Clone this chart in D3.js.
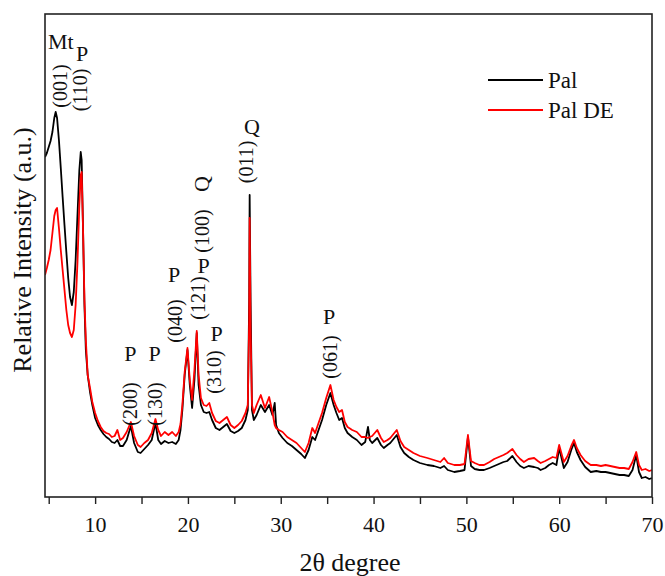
<!DOCTYPE html>
<html>
<head>
<meta charset="utf-8">
<script src="https://cdn.jsdelivr.net/npm/d3@7"></script>
<style>
  body { margin: 0; background: #fff; }
  text { font-family: "Liberation Serif", "Times New Roman", serif; fill: #111; }
</style>
</head>
<body>
<div id="chart"></div>
<script>
// XRD patterns: [2theta, relative intensity]
var pal = [
  [4.6,340],[4.8,344],[5.0,350],[5.2,356],[5.4,365],[5.6,379],[5.75,385],[5.9,379],[6.1,357],[6.3,329],
  [6.5,300],[6.7,272],[6.9,245],[7.1,219],[7.3,200],[7.5,192],[7.7,205],[7.9,237],[8.1,282],[8.3,327],
  [8.45,345],[8.55,337],[8.7,267],[8.85,192],[9.0,147],[9.2,122],[9.45,105],[9.7,92],[10.0,79],[10.3,72],
  [10.6,67],[10.9,63],[11.2,60],[11.5,58],[11.8,55],[12.1,54],[12.4,57],[12.7,51],[13.0,51],[13.4,57],
  [13.85,71],[14.2,54],[14.6,45],[14.9,44],[15.3,48],[15.7,52],[16.1,57],[16.5,74],[16.8,57],[17.1,53],
  [17.5,56],[17.9,54],[18.3,55],[18.7,53],[19.0,57],[19.2,67],[19.4,87],[19.65,122],[19.95,147],[20.2,112],
  [20.45,89],[20.7,117],[20.95,164],[21.15,112],[21.4,92],[21.7,85],[22.0,84],[22.3,85],[22.6,77],[23.0,69],
  [23.4,67],[23.8,70],[24.2,73],[24.6,66],[25.0,64],[25.4,66],[25.8,69],[26.2,77],[26.45,87],[26.6,197],
  [26.65,302],[26.75,197],[26.9,87],[27.1,77],[27.4,82],[27.85,92],[28.3,85],[28.75,92],[29.1,82],[29.35,94],
  [29.5,72],[29.8,64],[30.2,59],[30.7,54],[31.2,51],[31.7,47],[32.2,43],[32.6,39],[33.0,47],[33.4,60],
  [33.7,57],[34.0,65],[34.45,77],[34.9,92],[35.35,104],[35.7,92],[36.0,84],[36.3,77],[36.6,79],[36.9,69],
  [37.2,64],[37.7,60],[38.2,57],[38.7,52],[39.1,55],[39.4,70],[39.6,57],[39.85,54],[40.4,59],[40.8,52],
  [41.1,49],[41.5,52],[41.8,54],[42.5,62],[42.9,50],[43.3,44],[43.8,40],[44.3,37],[45.0,34],[45.8,32],
  [46.5,31],[47.2,29],[47.6,31],[48.0,27],[48.7,25],[49.3,26],[49.8,27],[50.17,60],[50.5,31],[50.9,28],
  [51.4,27],[51.9,27],[52.5,29],[53.0,31],[53.5,33],[54.0,35],[54.4,36],[54.96,41],[55.4,35],[55.8,31],
  [56.2,29],[56.7,31],[57.3,30],[57.7,29],[58.0,27],[58.5,29],[58.9,32],[59.3,34],[59.7,32],[60.0,49],
  [60.5,29],[60.9,35],[61.3,47],[61.6,54],[61.9,45],[62.3,37],[62.8,30],[63.4,25],[64.0,26],[64.5,25],
  [65.0,25],[65.5,24],[66.0,23],[66.5,22],[67.0,22],[67.5,21],[67.9,27],[68.3,42],[68.6,25],[68.9,19],
  [69.3,20],[69.7,18],[70.0,19]
];
var palDE = [
  [4.6,222],[4.8,229],[5.0,237],[5.2,247],[5.4,264],[5.6,281],[5.75,287],[5.9,289],[6.1,269],[6.3,247],
  [6.5,227],[6.7,207],[6.9,187],[7.1,172],[7.3,164],[7.5,160],[7.7,167],[7.9,192],[8.1,235],[8.3,292],
  [8.45,322],[8.55,325],[8.7,267],[8.85,197],[9.0,157],[9.2,122],[9.45,109],[9.7,95],[10.0,84],[10.3,76],
  [10.6,70],[10.9,66],[11.2,64],[11.5,63],[11.8,60],[12.1,61],[12.4,67],[12.7,57],[13.0,59],[13.4,65],
  [13.85,75],[14.2,61],[14.6,52],[14.9,50],[15.3,54],[15.7,57],[16.1,64],[16.5,78],[16.8,67],[17.1,61],
  [17.5,65],[17.9,62],[18.3,65],[18.7,61],[19.0,65],[19.2,73],[19.4,92],[19.65,125],[19.95,149],[20.2,117],
  [20.45,97],[20.7,127],[20.95,166],[21.15,122],[21.4,99],[21.7,92],[22.0,91],[22.3,94],[22.6,84],[23.0,76],
  [23.4,74],[23.8,77],[24.2,80],[24.6,72],[25.0,69],[25.4,72],[25.8,76],[26.2,84],[26.45,92],[26.6,177],
  [26.65,279],[26.75,167],[26.9,92],[27.1,84],[27.4,92],[27.85,102],[28.3,89],[28.75,100],[29.1,85],[29.35,72],
  [29.5,69],[29.8,67],[30.2,65],[30.7,60],[31.2,57],[31.7,54],[32.2,49],[32.6,45],[33.0,54],[33.4,69],
  [33.7,64],[34.0,72],[34.45,84],[34.9,99],[35.35,112],[35.7,97],[36.0,90],[36.3,85],[36.6,87],[36.9,75],
  [37.2,70],[37.7,67],[38.2,65],[38.7,60],[39.1,60],[39.4,59],[39.6,60],[39.85,61],[40.4,67],[40.8,59],
  [41.1,55],[41.5,57],[41.8,59],[42.5,67],[42.9,56],[43.3,50],[43.8,47],[44.3,44],[45.0,41],[45.8,39],
  [46.5,37],[47.2,35],[47.6,39],[48.0,34],[48.7,32],[49.3,32],[49.8,33],[50.17,62],[50.5,36],[50.9,34],
  [51.4,32],[51.9,32],[52.5,35],[53.0,38],[53.5,40],[54.0,42],[54.4,44],[54.96,48],[55.4,42],[55.8,38],
  [56.2,35],[56.7,38],[57.3,39],[57.7,36],[58.0,34],[58.5,36],[58.9,38],[59.3,40],[59.7,39],[60.0,52],
  [60.5,35],[60.9,41],[61.3,51],[61.6,57],[61.9,49],[62.3,42],[62.8,36],[63.4,32],[64.0,32],[64.5,31],
  [65.0,32],[65.5,31],[66.0,30],[66.5,29],[67.0,29],[67.5,28],[67.9,35],[68.3,45],[68.6,32],[68.9,27],
  [69.3,28],[69.7,26],[70.0,27]
];
var xTicks = [5, 10, 15, 20, 25, 30, 35, 40, 45, 50, 55, 60, 65, 70];
var xTickLabels = [10, 20, 30, 40, 50, 60, 70];

// peak annotations: [2theta, text, rotated?, y]
var peakLabels = [
  [6.3, "Mt", false, 49],
  [6.2, "(001)", true, 86],
  [8.6, "P", false, 61],
  [8.4, "(110)", true, 90],
  [13.8, "P", false, 361],
  [13.8, "(200)", true, 404],
  [16.4, "P", false, 361],
  [16.4, "(130)", true, 404],
  [18.5, "P", false, 282],
  [18.6, "(040)", true, 321],
  [21.1, "(121)", true, 298],
  [21.7, "P", false, 273],
  [21.5, "(100)", true, 231],
  [21.5, "Q", true, 184],
  [23.1, "P", false, 341],
  [22.8, "(310)", true, 372],
  [26.9, "Q", false, 134],
  [26.3, "(011)", true, 162],
  [35.2, "P", false, 324],
  [35.3, "(061)", true, 357]
];

var width = 665, height = 576;
var mLeft = 45, mRight = 652, mTop = 14, mBottom = 497;

var svg = d3.select("#chart").append("svg").attr("width", width).attr("height", height);

var x = d3.scaleLinear().domain([4.6, 70]).range([mLeft, mRight]);
var y = d3.scaleLinear().domain([0, 483]).range([mBottom, mTop]);

svg.append("clipPath").attr("id", "plot")
  .append("rect").attr("x", mLeft).attr("y", mTop).attr("width", mRight - mLeft).attr("height", mBottom - mTop);

var line = d3.line().x(d => x(d[0])).y(d => y(d[1]));

svg.append("path").datum(pal)
  .attr("clip-path", "url(#plot)")
  .attr("fill", "none").attr("stroke", "#000").attr("stroke-width", 1.8)
  .attr("stroke-linejoin", "round")
  .attr("d", line);
svg.append("path").datum(palDE)
  .attr("clip-path", "url(#plot)")
  .attr("fill", "none").attr("stroke", "#ff0000").attr("stroke-width", 1.8)
  .attr("stroke-linejoin", "round")
  .attr("d", line);

// frame
svg.append("rect")
  .attr("x", mLeft).attr("y", mTop).attr("width", mRight - mLeft).attr("height", mBottom - mTop)
  .attr("fill", "none").attr("stroke", "#222").attr("stroke-width", 1.6);

// x axis
var xAxis = d3.axisBottom(x).tickValues(xTicks).tickSize(7).tickSizeOuter(0)
  .tickFormat(d => xTickLabels.indexOf(d) >= 0 ? d : "");
var gx = svg.append("g").attr("transform", "translate(0," + mBottom + ")").call(xAxis);
gx.attr("font-family", null);
gx.select(".domain").remove();
gx.selectAll("line").attr("stroke", "#222").attr("stroke-width", 1.4);
gx.selectAll("text").attr("font-size", 22).attr("dy", "1.15em").attr("fill", "#111");

svg.append("text").attr("x", 350).attr("y", 571).attr("text-anchor", "middle")
  .attr("font-size", 26).text("2θ degree");

svg.append("text")
  .attr("transform", "translate(31,250) rotate(-90)")
  .attr("text-anchor", "middle").attr("font-size", 26)
  .text("Relative Intensity (a.u.)");

// legend
var legend = [["Pal", "#000", 80], ["Pal DE", "#ff0000", 110]];
legend.forEach(function (l) {
  svg.append("line").attr("x1", 488).attr("x2", 543).attr("y1", l[2]).attr("y2", l[2])
    .attr("stroke", l[1]).attr("stroke-width", 1.8);
  svg.append("text").attr("x", 548).attr("y", l[2] + 8).attr("font-size", 23).text(l[0]);
});

// annotations
peakLabels.forEach(function (p) {
  var t = svg.append("text").attr("text-anchor", "middle")
    .attr("font-size", p[1].length > 2 ? 20 : 22).text(p[1]);
  if (p[2]) {
    t.attr("transform", "translate(" + (x(p[0]) + 7) + "," + p[3] + ") rotate(-90)");
  } else {
    t.attr("x", x(p[0])).attr("y", p[3]);
  }
});
</script>
</body>
</html>
